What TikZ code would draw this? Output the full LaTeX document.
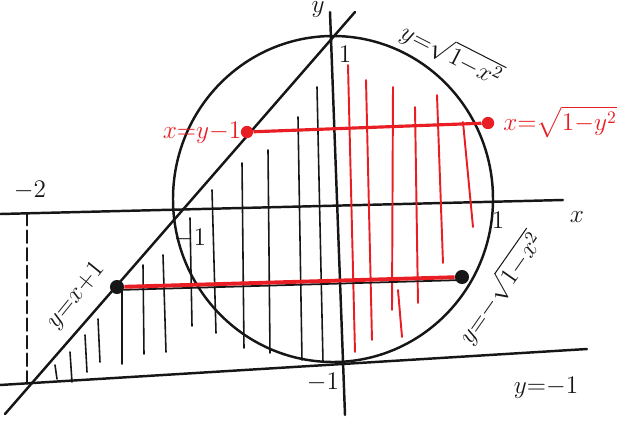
\documentclass[tikz,border=0pt]{standalone}
\usepackage{amsmath}
\usetikzlibrary{positioning, calc}
\definecolor{penred}{RGB}{232,30,36}
\definecolor{ink}   {RGB}{22,22,22}

\tikzset{
  pen/.style={draw=ink, line width=1.4pt, line cap=round},
  hatch/.style={draw=ink, line width=0.9pt, line cap=round},
  redhatch/.style={draw=penred, line width=1.1pt, line cap=round},
  lbl/.style={inner sep=1pt, font=\Large, text=ink},
  redlbl/.style={lbl, text=penred},
  blackdot/.style={circle, fill=ink, inner sep=0pt, minimum size=8pt},
  reddot/.style={circle, fill=penred, inner sep=0pt, minimum size=7pt}
}

\begin{document}
\begin{tikzpicture}[x=0.2mm, y=-0.2mm]
  \useasboundingbox (0,0) rectangle (621,423);

  % axes and straight lines
  \coordinate (xleft)  at (0,214);
  \coordinate (xright) at (563,200);
  \coordinate (ytop)   at (330,12);
  \coordinate (ybot)   at (345,415);
  \coordinate (lnlow)  at (5,414);
  \coordinate (lnhigh) at (355,12);
  \coordinate (mleft)  at (0,385);
  \coordinate (mright) at (587,349);
  \coordinate (dtop)   at (27,213);
  \coordinate (dbot)   at (27,385);
  \draw[pen] (xleft) -- (xright);
  \draw[pen] (ytop) -- (ybot);
  \draw[pen] (lnlow) -- (lnhigh);
  \draw[pen] (mleft) -- (mright);
  \draw[pen, dash pattern=on 7pt off 3pt] (dtop) -- (dbot);

  % unit circle
  \draw[pen] (333,199) ellipse [x radius=160, y radius=163];

  % black hatching
  \foreach \xa/\ya/\xb/\yb in {55/365/57/379, 70/352/72/382, 85/335/87/372,
      98/319/100/362, 122/289/122/364, 143/265/144/354, 163/255/166/352,
      190/218/192/326, 212/190/216/333, 242/163/244/348, 268/150/270/353,
      298/117/302/360, 317/87/323/362}
    \draw[hatch] (\xa,\ya) -- (\xb,\yb);

  % red hatching
  \foreach \xa/\ya/\xb/\yb in {348/65/355/352, 366/80/372/340,
      393/87/392/310, 398/290/402/337, 415/107/418/303,
      437/95/443/263, 463/122/473/227}
    \draw[redhatch] (\xa,\ya) -- (\xb,\yb);

  % horizontal strips
  \node[reddot] (ua) at (247,132) {};
  \node[reddot] (ub) at (488,123) {};
  \draw[penred, line width=1.8pt] (ua) -- (ub);
  \node[blackdot] (la) at (117,287) {};
  \node[blackdot] (lb) at (462,277) {};
  \draw[ink, line width=1pt] ($(la)+(0,3)$) -- ($(lb)+(0,3)$);
  \draw[penred, line width=2.2pt] (la) -- (lb);

  % labels
  \node[lbl] (ylab) at (318,10) {$y$};
  \node[lbl] (xlab) at (577,217) {$x$};
  \node[lbl] (mtwo) at (30,190) {$-2$};
  \node[lbl] (mxone) at (190,238) {${-}1$};
  \node[lbl] (myone) at (323,382) {${-}1$};
  \node[lbl] (pyone) at (345,54) {$1$};
  \node[lbl] (pxone) at (498,220) {$1$};
  \node[lbl, rotate=-27] (uppcurve) at (452,54) {$y{=}\sqrt{1{-}x^2}$};
  \node[lbl, rotate=55] (lowcurve) at (500,288) {$y{=}{-}\sqrt{1{-}x^2}$};
  \node[lbl, rotate=51] (linelab) at (76,296) {$y{=}x{+}1$};
  \node[lbl] (bottomlab) at (546,388) {$y{=}{-}1$};
  \node[redlbl] (leftend) at (202,133) {$x{=}y{-}1$};
  \node[redlbl] (rightend) at (560,122) {$x{=}\sqrt{1{-}y^2}$};
\end{tikzpicture}
\end{document}
